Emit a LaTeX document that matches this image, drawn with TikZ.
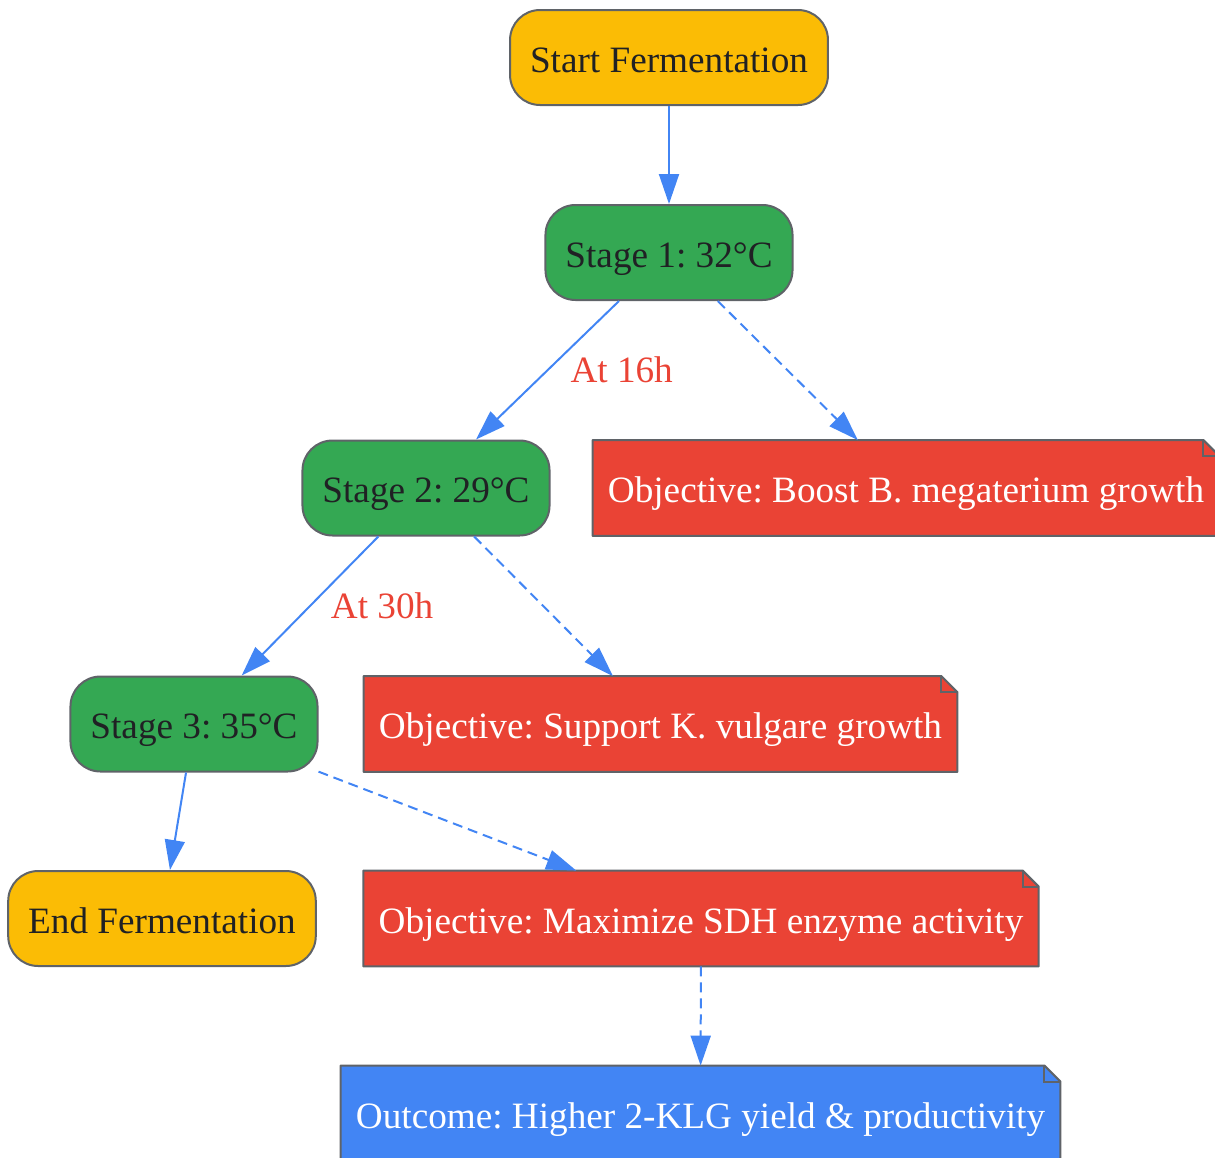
\documentclass[tikz,border=0pt]{standalone}
\usepackage{fontspec}
\setmainfont{Liberation Serif}
\usetikzlibrary{arrows.meta,backgrounds}
\definecolor{gyellow}{HTML}{FBBC05}
\definecolor{ggreen}{HTML}{34A853}
\definecolor{gred}{HTML}{EA4335}
\definecolor{gblue}{HTML}{4285F4}
\definecolor{gborder}{HTML}{5F6368}
\definecolor{gdark}{HTML}{202124}
\frenchspacing
\tikzset{
	base/.style={minimum height=47.5pt, inner xsep=10pt, text height=14.5pt, text depth=0pt,
		font=\fontsize{18.6}{22}\selectfont},
	term/.style={base, draw=gborder, line width=1pt, rounded corners=15pt, fill=gyellow, text=gdark},
	stage/.style={term, fill=ggreen},
	note/.style={base, inner xsep=7.5pt, text=white},
	flow/.style={color=gblue, line width=1pt, -{Triangle[length=15pt,width=10pt]}},
	aside/.style={flow, dash pattern=on 5pt off 3pt},
	elabel/.style={font=\fontsize{18.6}{22}\selectfont, text=gred, inner sep=0pt},
}
% note shape: box with a folded top right corner
\newcommand{\notebg}[2]{%
	\filldraw[fill=#2, draw=gborder, line width=1pt, line join=round]
		(#1.south west) -- (#1.north west) -- ([xshift=-8pt]#1.north east)
		-- ([yshift=-8pt]#1.north east) -- (#1.south east) -- cycle;
	\draw[gborder, line width=1pt] ([xshift=-8pt]#1.north east) |- ([yshift=-8pt]#1.north east);}
\begin{document}
\begin{tikzpicture}[x=0.5pt,y=-0.5pt]
	\useasboundingbox (0,0) rectangle (1215,1157);
	\node[term] (Start) at (669,57.5) {Start Fermentation};
	\node[stage] (S1) at (669,252.5) {Stage 1: 32°C};
	\node[stage] (S2) at (426,488) {Stage 2: 29°C};
	\node[stage] (S3) at (194,724) {Stage 3: 35°C};
	\node[term] (End) at (162,918.5) {End Fermentation};
	\node[note] (O1) at (906,488) {Objective: Boost B. megaterium growth};
	\node[note] (O2) at (660.5,724) {Objective: Support K. vulgare growth};
	\node[note] (O3) at (701,918.5) {Objective: Maximize SDH enzyme activity};
	\node[note] (Out) at (700.5,1113.5) {Outcome: Higher 2-KLG yield \& productivity};
	\begin{scope}[on background layer]
		\notebg{O1}{gred}
		\notebg{O2}{gred}
		\notebg{O3}{gred}
		\notebg{Out}{gblue}
	\end{scope}
	\path[flow] (Start) edge (S1);
	\path[flow] (S1) edge node[elabel, right=11pt] {At 16h} (S2);
	\path[flow] (S2) edge node[elabel, right=10pt] {At 30h} (S3);
	\path[flow] (S3) edge (End);
	\path[aside] (S1) edge (O1) (S2) edge (O2) (S3) edge (O3);
	\path[aside] (O3) edge (Out);
\end{tikzpicture}
\end{document}
